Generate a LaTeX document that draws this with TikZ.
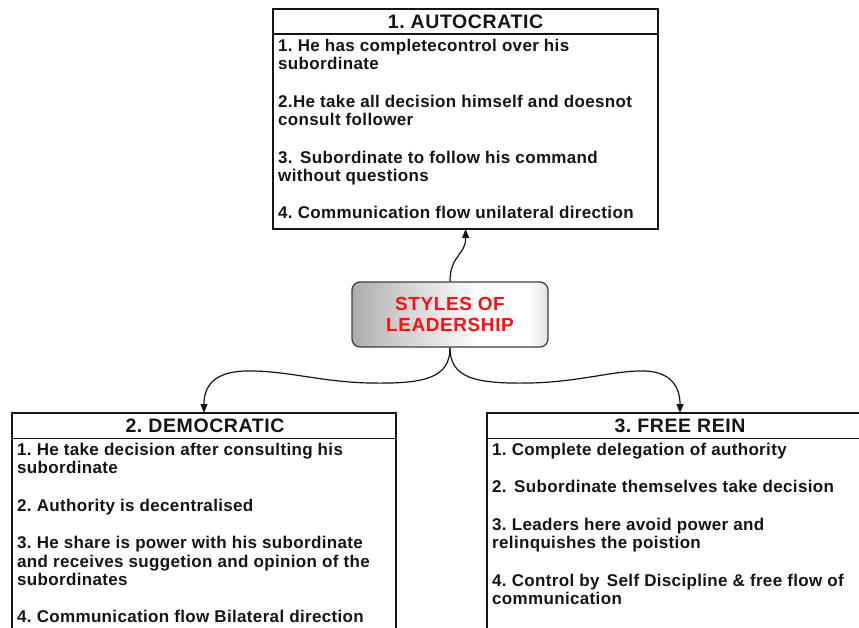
\documentclass[tikz,border=0pt]{standalone}
\usepackage{fontspec}
\setmainfont{Liberation Sans}
\newfontfamily\itemfont{Liberation Sans}[LetterSpace=2]
\newfontfamily\headfont{Liberation Sans}[LetterSpace=3]
\newfontfamily\hubfont{Liberation Sans}[LetterSpace=3]
\usetikzlibrary{arrows.meta}
\definecolor{ink}{HTML}{151515}
\definecolor{hubred}{HTML}{FF1010}
% grey-to-white fill of the central box (the path spans 25bp..75bp)
\pgfdeclarehorizontalshading{hubshade}{100bp}{%
  color(0bp)=(black!33); color(25bp)=(black!33); color(38bp)=(black!18);
  color(58bp)=(white); color(70bp)=(white); color(75bp)=(black!12);
  color(100bp)=(black!12)}
\newcommand\widegap{\hspace{7.5pt}}
\begin{document}
\frenchspacing
\begin{tikzpicture}[x=1pt,y=-1pt,
  panel/.style={draw=ink, line width=1.8pt, anchor=north west, inner sep=0pt, outer sep=0pt},
  rule/.style={draw=ink, line width=1.8pt},
  head/.style={font=\headfont\bfseries\fontsize{19.5}{22}\selectfont, text=ink, inner sep=0pt},
  items/.style={font=\itemfont\bfseries\fontsize{17}{18.4}\selectfont, text=ink, align=left,
    anchor=north west, inner sep=0pt},
  hub/.style={draw=black!75, line width=1.3pt, rounded corners=8pt, shading=hubshade,
    minimum width=196pt, minimum height=65pt, align=center, text=hubred,
    font=\hubfont\bfseries\fontsize{19}{21.5}\selectfont},
  link/.style={draw=ink, line width=1.2pt, -{Triangle[length=9pt,width=7pt]}}]
\useasboundingbox (0,0) rectangle (859,627);
\begin{scope}
\clip (0,0) rectangle (859,627);

% the three style panels
\node[panel, minimum width=385pt, minimum height=220pt] (autoc) at (273,9) {};
\node[panel, minimum width=384pt, minimum height=240pt] (demo) at (12,413) {};
\node[panel, minimum width=386pt, minimum height=240pt] (frin) at (487,413) {};

% title bands
\draw[rule] ([yshift=-25pt]autoc.north west) -- ([yshift=-25pt]autoc.north east);
\draw[rule] ([yshift=-25.5pt]demo.north west) -- ([yshift=-25.5pt]demo.north east);
\draw[rule] ([yshift=-25.5pt]frin.north west) -- ([yshift=-25.5pt]frin.north east);

\node[head] (autoct) at (465.5,21.5) {1. AUTOCRATIC};
\node[head] (demot) at (205,425.5) {2. DEMOCRATIC};
\node[head] (frint) at (680,425.5) {3. FREE REIN};

% panel contents
\node[items] (autocb) at (278,39) {1. He has completecontrol over his\\subordinate\\[19pt]
2.He take all decision himself and doesnot\\consult follower\\[19pt]
3.\widegap Subordinate to follow his command\\without questions\\[19pt]
4. Communication flow unilateral direction};

\node[items] (demob) at (17,443) {1. He take decision after consulting his\\subordinate\\[19pt]
2. Authority is decentralised\\[19pt]
3. He share is power with his subordinate\\and receives suggetion and opinion of the\\subordinates\\[19pt]
4. Communication flow Bilateral direction};

\node[items] (frinb) at (492,443) {1. Complete delegation of authority\\[19pt]
2.\widegap Subordinate themselves take decision\\[19pt]
3. Leaders here avoid power and\\relinquishes the poistion\\[19pt]
4. Control by\widegap Self Discipline \& free flow of\\communication};
\end{scope}

% central node
\node[hub] (hub) at (450,314.5) {STYLES OF\\LEADERSHIP};

% connectors
\draw[link] (hub.north) .. controls (450,255) and (466,255) .. (autoc.south);
\draw[link] (hub.south) .. controls (450,378) and (425,384) .. (370,383)
  .. controls (320,382) and (285,370) .. (245,371)
  .. controls (212,372) and (204,388) .. (demo.north);
\draw[link] (hub.south) .. controls (450,378) and (475,384) .. (530,383)
  .. controls (580,382) and (615,370) .. (645,371)
  .. controls (672,372) and (680,388) .. (frin.north);
\end{tikzpicture}
\end{document}
